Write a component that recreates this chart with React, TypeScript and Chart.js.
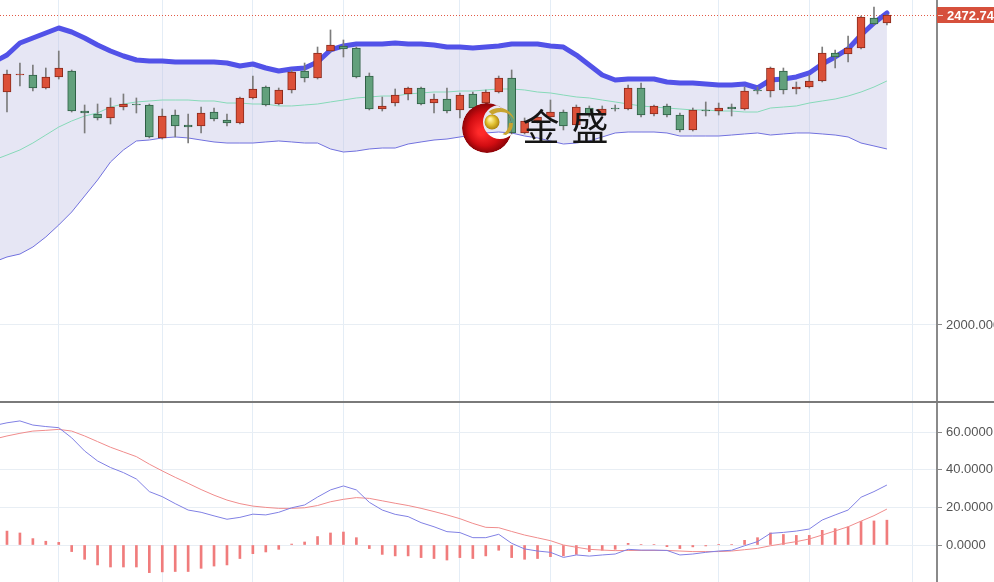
import React, { useEffect, useRef } from "react";
import { Chart, registerables } from "chart.js";

Chart.register(...registerables);

// ---- Candles (index 0..68) ----
const candleOpen = [
  2355.3, 2381.2, 2381.2, 2361.4, 2378.2, 2387.3, 2326.3, 2321.8, 2315.7, 2332.4,
  2337.0, 2335.5, 2285.2, 2320.2, 2305.0, 2303.5, 2324.8, 2312.6, 2308.0, 2346.2,
  2362.9, 2337.0, 2358.4, 2387.3, 2376.7, 2417.8, 2425.5, 2422.4, 2379.7, 2329.4,
  2338.5, 2352.3, 2361.4, 2338.5, 2344.6, 2327.9, 2352.3, 2338.5, 2355.3, 2376.7,
  2292.8, 2311.1, 2317.2, 2324.8, 2305.0, 2330.9, 2320.2, 2330.9, 2329.4, 2361.4,
  2321.8, 2334.0, 2320.2, 2297.4, 2327.9, 2326.3, 2332.4, 2329.4, 2358.4, 2356.8,
  2387.3, 2359.9, 2362.9, 2372.1, 2414.8, 2413.3, 2422.4, 2468.2, 2460.5,
];
const candleHigh = [
  2388.9, 2399.5, 2396.5, 2391.9, 2417.8, 2388.9, 2335.5, 2337.0, 2346.2, 2352.3,
  2346.2, 2337.0, 2329.4, 2327.9, 2321.8, 2332.4, 2330.9, 2321.8, 2347.7, 2379.7,
  2364.5, 2361.4, 2388.9, 2399.5, 2423.9, 2449.9, 2434.6, 2423.9, 2384.3, 2347.7,
  2359.9, 2362.9, 2362.9, 2352.3, 2361.4, 2353.8, 2355.3, 2358.4, 2379.7, 2388.9,
  2315.7, 2321.8, 2343.1, 2327.9, 2335.5, 2334.0, 2334.0, 2335.5, 2366.0, 2369.0,
  2335.5, 2337.0, 2323.3, 2330.9, 2340.1, 2338.5, 2337.0, 2362.9, 2362.9, 2393.4,
  2391.9, 2370.6, 2381.2, 2423.9, 2419.4, 2440.7, 2471.2, 2484.9, 2474.3,
];
const candleLow = [
  2324.8, 2364.5, 2356.8, 2359.9, 2375.1, 2324.8, 2292.8, 2312.6, 2306.5, 2327.9,
  2323.3, 2285.2, 2283.6, 2286.7, 2277.5, 2292.8, 2311.1, 2303.5, 2306.5, 2344.6,
  2334.0, 2335.5, 2353.8, 2370.6, 2375.1, 2416.3, 2408.7, 2376.7, 2327.9, 2326.3,
  2334.0, 2343.1, 2335.5, 2323.3, 2323.3, 2315.7, 2327.9, 2330.9, 2353.8, 2291.3,
  2291.3, 2308.0, 2315.7, 2297.4, 2301.9, 2317.2, 2317.2, 2326.3, 2327.9, 2317.2,
  2318.7, 2317.2, 2294.3, 2295.8, 2318.7, 2320.2, 2318.7, 2327.9, 2352.3, 2347.7,
  2352.3, 2352.3, 2361.4, 2370.6, 2391.9, 2401.1, 2420.9, 2457.5, 2457.5,
];
const candleClose = [
  2382.8, 2382.8, 2361.4, 2378.2, 2391.9, 2326.3, 2323.3, 2315.7, 2332.4, 2337.0,
  2335.5, 2286.7, 2318.7, 2303.5, 2301.9, 2323.3, 2314.1, 2308.0, 2346.2, 2359.9,
  2335.5, 2358.4, 2385.8, 2376.7, 2414.8, 2427.0, 2420.9, 2378.2, 2329.4, 2334.0,
  2350.7, 2361.4, 2337.0, 2344.6, 2326.3, 2350.7, 2330.9, 2355.3, 2376.7, 2292.8,
  2311.1, 2317.2, 2324.8, 2303.5, 2332.4, 2320.2, 2329.4, 2329.4, 2361.4, 2320.2,
  2334.0, 2320.2, 2297.4, 2327.9, 2326.3, 2330.9, 2329.4, 2356.8, 2356.8, 2391.9,
  2358.4, 2362.9, 2372.1, 2414.8, 2408.7, 2422.4, 2469.7, 2459.0, 2472.74,
];

// ---- Bollinger bands (index -1..68) ----
const bandUpper = [
  2401.1,
  2411.7, 2430.0, 2437.7, 2445.3, 2452.9, 2446.8, 2437.7, 2427.0, 2417.8, 2410.2,
  2404.1, 2402.6, 2402.6, 2401.1, 2401.1, 2401.1, 2401.1, 2399.5, 2395.0, 2398.0,
  2391.9, 2387.3, 2390.4, 2391.9, 2401.1, 2419.4, 2425.5, 2428.5, 2428.5, 2428.5,
  2430.0, 2428.5, 2428.5, 2427.0, 2423.9, 2423.9, 2422.4, 2423.9, 2425.5, 2428.5,
  2428.5, 2428.5, 2425.5, 2423.9, 2411.7, 2396.5, 2381.2, 2373.6, 2375.1, 2375.1,
  2375.1, 2370.6, 2369.0, 2369.0, 2367.5, 2366.0, 2366.0, 2367.5, 2361.4, 2373.6,
  2375.1, 2378.2, 2384.3, 2398.0, 2408.7, 2420.9, 2442.2, 2460.5, 2475.8,
];
const bandMiddle = [
  2251.6,
  2259.2, 2266.9, 2277.5, 2289.7, 2301.9, 2311.1, 2318.7, 2323.3, 2332.4, 2337.0,
  2340.1, 2341.6, 2343.1, 2343.1, 2343.1, 2341.6, 2341.6, 2338.5, 2338.5, 2337.0,
  2337.0, 2334.0, 2334.0, 2335.5, 2337.0, 2340.1, 2343.1, 2346.2, 2347.7, 2349.2,
  2349.2, 2352.3, 2353.8, 2355.3, 2355.3, 2356.8, 2356.8, 2358.4, 2359.9, 2359.9,
  2358.4, 2355.3, 2353.8, 2350.7, 2347.7, 2346.2, 2343.1, 2340.1, 2337.0, 2334.0,
  2332.4, 2330.9, 2329.4, 2327.9, 2327.9, 2326.3, 2326.3, 2324.8, 2324.8, 2330.9,
  2332.4, 2334.0, 2338.5, 2341.6, 2344.6, 2349.2, 2355.3, 2362.9, 2372.1,
];
const bandLower = [
  2096.1,
  2103.7, 2108.2, 2118.9, 2134.2, 2152.5, 2172.3, 2196.7, 2221.1, 2248.6, 2266.9,
  2280.6, 2282.1, 2285.2, 2286.7, 2285.2, 2282.1, 2279.1, 2277.5, 2277.5, 2277.5,
  2279.1, 2280.6, 2279.1, 2277.5, 2277.5, 2268.4, 2263.8, 2265.3, 2268.4, 2269.9,
  2269.9, 2276.0, 2279.1, 2282.1, 2283.6, 2286.7, 2289.7, 2292.8, 2294.3, 2292.8,
  2288.2, 2285.2, 2280.6, 2276.0, 2277.5, 2280.6, 2286.7, 2292.8, 2294.3, 2294.3,
  2294.3, 2292.8, 2288.2, 2288.2, 2288.2, 2288.2, 2289.7, 2291.3, 2292.8, 2289.7,
  2291.3, 2292.8, 2292.8, 2291.3, 2289.7, 2286.7, 2277.5, 2273.0, 2268.4,
];

// ---- MACD (lines: index -1..68, histogram: index 0..68) ----
const macdLine = [
  63.5,
  65, 66, 63.8, 63, 62.4, 57, 50, 44.7, 41.2, 38.5,
  35.1, 28.4, 25.7, 22, 18.6, 17.4, 15.5, 13.7, 14.7, 16.4,
  16, 17.4, 19.8, 21.3, 25.5, 29.3, 31.4, 29.3, 22.7, 18.6,
  16.3, 15.1, 11.9, 9.7, 7.1, 6.6, 3.9, 3.9, 5.7, 0.9,
  -2.1, -3.2, -3.9, -6.6, -5.3, -5.9, -5.3, -4.8, -2.3, -2.7,
  -2.7, -2.9, -5.3, -4.8, -3.9, -3.2, -2.8, -0.4, 1.8, 6.2,
  6.7, 7.4, 8.5, 13.3, 16, 18.6, 25.4, 28.4, 31.9,
];
const signalLine = [
  56.3,
  58, 59.4, 60.6, 61, 61.5, 60.6, 58, 55, 52, 49.5,
  47, 43, 39.4, 36, 32.8, 29.5, 26.5, 23.9, 22, 20.7,
  20, 19.5, 19.5, 19.8, 21, 23, 24.3, 25.2, 24.8, 23.5,
  22.2, 21, 19.5, 17.8, 16, 14, 11.5, 9.4, 9.2, 7.2,
  5.3, 3.8, 2.3, 0, -1.2, -2.3, -2.7, -3, -2.9, -2.9,
  -2.9, -2.9, -3.2, -3.5, -3.5, -3.5, -3.2, -2.5, -1.8, -0.4,
  0.7, 1.8, 3.2, 5.3, 7.5, 9.7, 12.7, 15.6, 19.1,
];
const macdHist = [
  7.4, 6.4, 3.4, 2, 1.4, -3.5, -7.6, -10.6, -11.7, -11.7,
  -11.7, -14.7, -14.3, -14.1, -14.1, -12.4, -11.2, -10.6, -7.2, -4.6,
  -3.7, -2.3, 0.5, 1.6, 4.5, 6.4, 6.9, 3.9, -1.9, -5,
  -5.8, -5.8, -6.7, -7.2, -8, -6.7, -7.2, -5.8, -2.8, -6.7,
  -7.6, -7.2, -6.2, -5.8, -5, -3.5, -2.8, -2.3, 0.9, 0.3,
  0.3, -0.9, -1.9, -1, -0.5, 0.2, 0.3, 2.5, 3.9, 6.4,
  5.6, 5.1, 5.1, 7.8, 8.7, 9.6, 12.5, 12.8, 13.2,
];

// ---- Axes ----
const priceTicks = [2000];
const macdTicks = [60, 40, 20, 0];
const gridIndices = [4, 12, 19, 26, 35, 42, 55, 62, 70];
const lastPrice = 2472.74;
const logoChars = ["金", "盛"];

const FONT = '"Liberation Sans", Arial, sans-serif';
const X_MIN = -0.54;
const X_MAX = 71.87;
const PRICE_MIN = 1882.55;
const PRICE_MAX = 2495.6;
const MACD_MIN = -19.68;
const MACD_MAX = 75.53;
const AXIS_W = 57;

const RED_FILL = "#dc5038";
const RED_EDGE = "#8a2a1c";
const GREEN_FILL = "#62a07c";
const GREEN_EDGE = "#2f5f46";

function zeroPad(s: any) {
  s.paddingTop = 0;
  s.paddingBottom = 0;
  s.paddingLeft = 0;
  s.paddingRight = 0;
}

function xScaleOpts() {
  return {
    type: "linear" as const,
    min: X_MIN,
    max: X_MAX,
    offset: false,
    ticks: { display: false },
    grid: { color: "#e4edf6", drawTicks: false, offset: false, lineWidth: 1 },
    border: { display: false },
    afterBuildTicks: (s: any) => {
      s.ticks = gridIndices.map((v) => ({ value: v }));
    },
    afterFit: (s: any) => {
      s.height = 0;
      zeroPad(s);
    },
  };
}

function drawLogo(ctx: CanvasRenderingContext2D) {
  const cx = 487, cy = 128, R = 25;
  const ix = 500, iy = 122, ir = 17;
  ctx.save();
  ctx.beginPath();
  ctx.arc(cx, cy, R, 0, Math.PI * 2);
  ctx.clip();
  const g = ctx.createRadialGradient(cx - 6, cy + 4, 3, cx, cy, R);
  g.addColorStop(0, "#ff2a2a");
  g.addColorStop(0.6, "#d20d12");
  g.addColorStop(1, "#8a0307");
  ctx.beginPath();
  ctx.arc(cx, cy, R, 0, Math.PI * 2);
  ctx.moveTo(ix + ir, iy);
  ctx.arc(ix, iy, ir, 0, Math.PI * 2);
  ctx.fillStyle = g;
  ctx.fill("evenodd");
  ctx.restore();

  // gold crescents
  ctx.save();
  ctx.fillStyle = "#c9a430";
  ctx.beginPath();
  ctx.arc(ix - 1, iy + 2, 16, (-130 * Math.PI) / 180, (-25 * Math.PI) / 180);
  ctx.arc(ix + 1, iy + 5, 15, (-30 * Math.PI) / 180, (-125 * Math.PI) / 180, true);
  ctx.closePath();
  ctx.fill();
  ctx.beginPath();
  ctx.arc(ix - 1, iy + 1, 14, (0 * Math.PI) / 180, (60 * Math.PI) / 180);
  ctx.arc(ix - 4, iy + 1, 13, (60 * Math.PI) / 180, (0 * Math.PI) / 180, true);
  ctx.closePath();
  ctx.fill();
  // gold ball
  const bg = ctx.createRadialGradient(490, 119, 1, 492, 122, 8);
  bg.addColorStop(0, "#fff2a0");
  bg.addColorStop(0.5, "#e2c030");
  bg.addColorStop(1, "#a67c08");
  ctx.fillStyle = bg;
  ctx.beginPath();
  ctx.arc(492, 122, 7.5, 0, Math.PI * 2);
  ctx.fill();
  ctx.restore();

  // text
  ctx.save();
  ctx.fillStyle = "#151515";
  ctx.font = '37px "Noto Sans CJK SC", "Noto Sans CJK JP", sans-serif';
  ctx.textAlign = "center";
  ctx.textBaseline = "middle";
  ctx.fillText(logoChars[0], 541, 127);
  ctx.fillText(logoChars[1], 590, 127);
  ctx.restore();
}

const mainOverlay = {
  id: "mainOverlay",
  beforeDatasetsDraw(chart: any) {
    const { ctx, chartArea } = chart;
    const y = Math.round(chart.scales.y.getPixelForValue(lastPrice)) + 0.5;
    ctx.save();
    ctx.strokeStyle = "#e25a46";
    ctx.lineWidth = 1;
    ctx.setLineDash([1, 2]);
    ctx.beginPath();
    ctx.moveTo(chartArea.left, y);
    ctx.lineTo(chartArea.right, y);
    ctx.stroke();
    ctx.restore();
  },
  afterDraw(chart: any) {
    const { ctx, chartArea, width } = chart;
    const y = Math.round(chart.scales.y.getPixelForValue(lastPrice));
    ctx.save();
    ctx.fillStyle = "#d6503c";
    ctx.fillRect(chartArea.right, y - 8, width - chartArea.right, 16);
    ctx.strokeStyle = "#f4d0c8";
    ctx.lineWidth = 1;
    ctx.beginPath();
    ctx.moveTo(chartArea.right + 1, y + 0.5);
    ctx.lineTo(chartArea.right + 6, y + 0.5);
    ctx.stroke();
    ctx.fillStyle = "#ffffff";
    ctx.font = `bold 13px ${FONT}`;
    ctx.textBaseline = "middle";
    ctx.textAlign = "left";
    ctx.fillText(lastPrice.toFixed(3), chartArea.right + 10, y + 1);
    ctx.restore();
    drawLogo(ctx);
  },
};

function yAxis(min: number, max: number, ticks: number[], decimals: number) {
  return {
    position: "right",
    min,
    max,
    beginAtZero: false,
    ticks: {
      color: "#555555",
      font: { size: 13, family: FONT },
      padding: 4,
      callback: (v: any) => Number(v).toFixed(decimals),
    },
    grid: { color: "#e8eef4", tickColor: "#8a8a8a", tickLength: 5 },
    border: { color: "#8a8a8a", width: 2 },
    afterBuildTicks: (s: any) => {
      s.ticks = ticks.map((v) => ({ value: v }));
    },
    afterFit: (s: any) => {
      s.width = AXIS_W;
      zeroPad(s);
    },
  } as any;
}

export default function App() {
  const mainRef = useRef<HTMLCanvasElement>(null);
  const macdRef = useRef<HTMLCanvasElement>(null);

  useEffect(() => {
    Chart.defaults.font.family = FONT;
    const up = candleClose.map((c, i) => c >= candleOpen[i]);
    const shifted = (arr: number[]) => arr.map((v, i) => ({ x: i - 1, y: v }));

    const main = new Chart(mainRef.current as HTMLCanvasElement, {
      type: "bar",
      data: {
        datasets: [
          {
            type: "line",
            label: "upper",
            data: shifted(bandUpper),
            borderColor: "#5252e8",
            borderWidth: 5,
            pointRadius: 0,
            borderJoinStyle: "round",
            borderCapStyle: "round",
            fill: false,
            order: 4,
          } as any,
          {
            type: "line",
            label: "middle",
            data: shifted(bandMiddle),
            borderColor: "#86d9b8",
            borderWidth: 1,
            pointRadius: 0,
            fill: false,
            order: 5,
          } as any,
          {
            type: "line",
            label: "lower",
            data: shifted(bandLower),
            borderColor: "#7171de",
            borderWidth: 1,
            pointRadius: 0,
            fill: "-2",
            backgroundColor: "rgba(188,188,226,0.38)",
            order: 6,
          } as any,
          {
            type: "bar",
            label: "wick",
            data: candleLow.map((l, i) => ({ x: i, y: [l, candleHigh[i]] })),
            backgroundColor: "#7c7c7c",
            borderWidth: 0,
            barThickness: 1,
            grouped: false,
            order: 2,
          } as any,
          {
            type: "bar",
            label: "body",
            data: candleOpen.map((o, i) => ({ x: i, y: [o, candleClose[i]] })),
            backgroundColor: up.map((u) => (u ? RED_FILL : GREEN_FILL)),
            borderColor: up.map((u) => (u ? RED_EDGE : GREEN_EDGE)),
            borderWidth: 1,
            borderSkipped: false,
            barThickness: 8,
            grouped: false,
            order: 1,
          } as any,
        ],
      },
      options: {
        responsive: false,
        animation: false,
        events: [],
        layout: { padding: 0 },
        plugins: { legend: { display: false }, tooltip: { enabled: false } },
        scales: {
          x: xScaleOpts() as any,
          y: yAxis(PRICE_MIN, PRICE_MAX, priceTicks, 3),
        },
      },
      plugins: [mainOverlay],
    });

    const sub = new Chart(macdRef.current as HTMLCanvasElement, {
      type: "bar",
      data: {
        datasets: [
          {
            type: "line",
            label: "MACD",
            data: shifted(macdLine),
            borderColor: "#8080e4",
            borderWidth: 1,
            pointRadius: 0,
            fill: false,
            order: 1,
          } as any,
          {
            type: "line",
            label: "Signal",
            data: shifted(signalLine),
            borderColor: "#f08c8c",
            borderWidth: 1,
            pointRadius: 0,
            fill: false,
            order: 2,
          } as any,
          {
            type: "bar",
            label: "Hist",
            data: macdHist.map((v, i) => ({ x: i, y: v })),
            backgroundColor: "#f07c7c",
            borderWidth: 0,
            barThickness: 2,
            grouped: false,
            order: 3,
          } as any,
        ],
      },
      options: {
        responsive: false,
        animation: false,
        events: [],
        layout: { padding: 0 },
        plugins: { legend: { display: false }, tooltip: { enabled: false } },
        scales: {
          x: xScaleOpts() as any,
          y: yAxis(MACD_MIN, MACD_MAX, macdTicks, 4),
        },
      },
    });

    return () => {
      main.destroy();
      sub.destroy();
    };
  }, []);

  return (
    <div
      style={{
        position: "absolute",
        left: 0,
        top: 0,
        width: 994,
        height: 582,
        background: "#ffffff",
        overflow: "hidden",
      }}
    >
      <canvas
        ref={mainRef}
        width={994}
        height={402}
        style={{ position: "absolute", left: 0, top: 0 }}
      />
      <div
        style={{
          position: "absolute",
          left: 0,
          top: 401,
          width: 994,
          height: 2,
          background: "#7a7a7a",
        }}
      />
      <canvas
        ref={macdRef}
        width={994}
        height={179}
        style={{ position: "absolute", left: 0, top: 403 }}
      />
    </div>
  );
}
